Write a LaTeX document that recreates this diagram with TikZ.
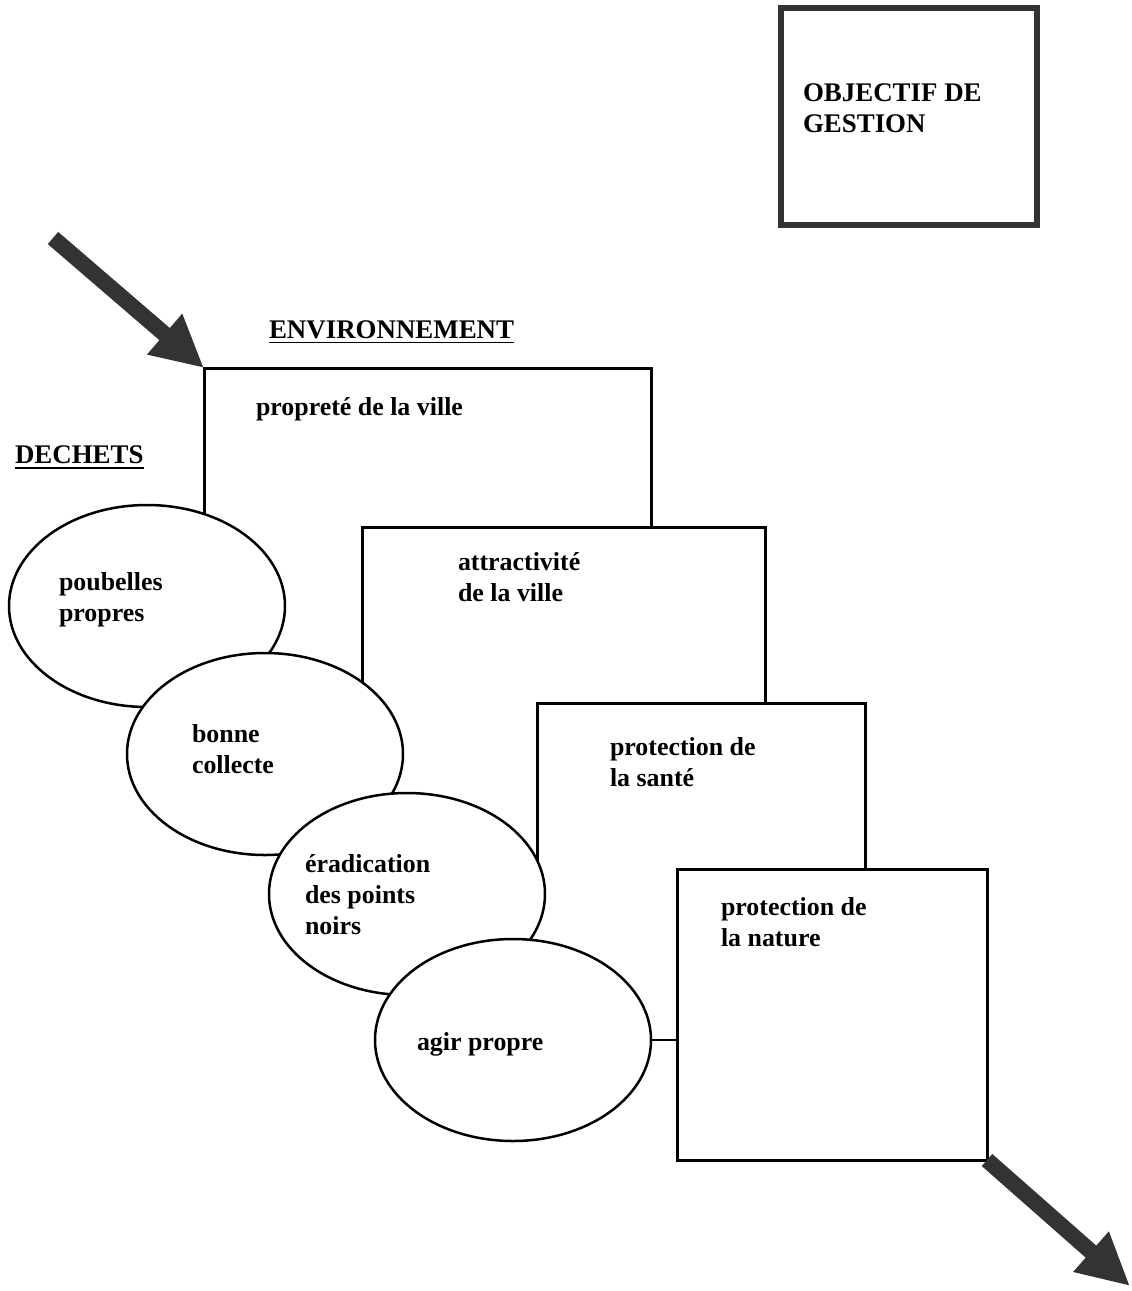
\documentclass[tikz,border=0pt]{standalone}
\usepackage{fontspec}
\setmainfont{Liberation Serif}
\usetikzlibrary{arrows.meta,calc,shapes.geometric}
\begin{document}
\begin{tikzpicture}[x=1bp,y=-1bp,
  lbl/.style={font=\fontsize{26}{31}\selectfont\bfseries, inner sep=0pt, outer sep=0pt, align=left, anchor=base west},
  caplbl/.style={font=\fontsize{27}{31}\selectfont\bfseries, inner sep=0pt, outer sep=0pt, align=left, anchor=base west},
  boxnode/.style={draw=none, fill=white, inner sep=0pt, outer sep=0pt, anchor=north west},
  boxline/.style={line width=3bp, line join=miter, draw=black},
  ell/.style={ellipse, draw=black, fill=white, line width=2.5bp, inner sep=0pt, outer sep=0pt, minimum width=276bp, minimum height=202bp},
  bigarrow/.style={line width=16bp, draw=black!80, -{Triangle[length=52bp,width=50bp]}},
  ulinestyle/.style={line width=1.5bp}
]
\useasboundingbox (0,0) rectangle (1132,1291);

% management objective box
\node[draw=black!80, line width=6bp, inner sep=0pt, outer sep=0pt, minimum width=256bp, minimum height=217bp, anchor=north west] (obj) at (781,8) {};
\node[caplbl] (objt) at (803,132) {OBJECTIF DE\\GESTION};

% headings
\node[caplbl] (env) at (269,338) {ENVIRONNEMENT};
\draw[ulinestyle] ([yshift=-4.5bp]env.base west) -- ([yshift=-4.5bp]env.base east);
\node[caplbl] (dech) at (15,463) {DECHETS};
\draw[ulinestyle] ([yshift=-5bp]dech.base west) -- ([yshift=-5bp]dech.base east);

% environment boxes (stair)
\node[boxnode, minimum width=447bp, minimum height=159bp] (b1) at (204,368) {};
\draw[boxline] (b1.south west) -- (b1.north west) -- (b1.north east) -- (b1.south east);
\node[boxnode, minimum width=403bp, minimum height=176bp] (b2) at (362,527) {};
\draw[boxline] (b2.south west) -- (b2.north west) -- (b2.north east) -- (b2.south east);
\node[boxnode, minimum width=328bp, minimum height=166bp] (b3) at (537,703) {};
\draw[boxline] (b3.south west) -- (b3.north west) -- (b3.north east) -- (b3.south east);
\node[boxnode, minimum width=310bp, minimum height=291bp] (b4) at (677,869) {};
\draw[boxline] (b4.south west) -- (b4.north west) -- (b4.north east) -- (b4.south east) -- cycle;

\node[lbl] (b1t) at (256,415) {propreté de la ville};
\node[lbl] (b2t) at (458,601) {attractivité\\de la ville};
\node[lbl] (b3t) at (610,786) {protection de\\la santé};
\node[lbl] (b4t) at (721,946) {protection de\\la nature};

% waste ellipses
\node[ell] (e1) at (147,606) {};
\node[ell] (e2) at (265,754) {};
\node[ell] (e3) at (407,894) {};
\node[ell] (e4) at (513,1040) {};

\node[lbl] (e1t) at (59,621) {poubelles\\propres};
\node[lbl] (e2t) at (192,773) {bonne\\collecte};
\node[lbl] (e3t) at (305,934) {éradication\\des points\\noirs};
\node[lbl] (e4t) at (417,1050) {agir propre};

% connector
\draw[line width=2bp] (e4.east) -- (e4.east -| b4.west);

% big arrows
\coordinate (a1) at (53,238);
\draw[bigarrow] (a1) -- (b1.north west);
\coordinate (a2) at (1130,1286);
\draw[bigarrow] (b4.south east) -- (a2);
\end{tikzpicture}
\end{document}
